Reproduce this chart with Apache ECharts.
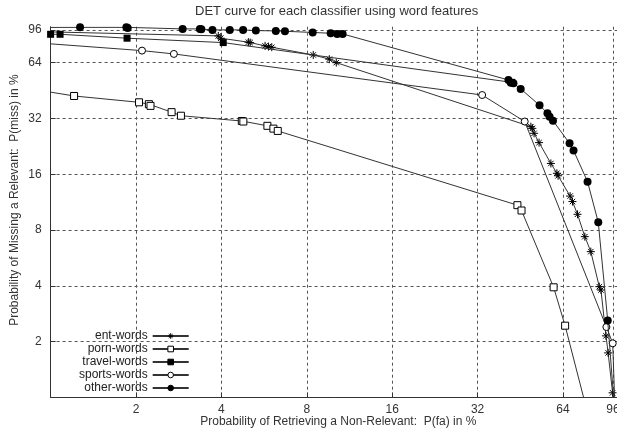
<!DOCTYPE html>
<html><head><meta charset="utf-8">
<script src="https://cdn.jsdelivr.net/npm/echarts@6/dist/echarts.min.js"></script>
<style>html,body{margin:0;padding:0;background:#fff}#c{width:617px;height:440px}</style>
</head><body><div id="c"></div>
<script>
// ---- data (x = P(fa) %, y = P(miss) %) ----
const seriesNames = ['ent-words', 'porn-words', 'travel-words', 'sports-words', 'other-words'];
const xTickValues = [2, 4, 8, 16, 32, 64, 96];
const yTickValues = [2, 4, 8, 16, 32, 64, 96];

const entWords = [[0.8, 94.5], [3.90, 89.2], [3.98, 86.7], [4.98, 82.5], [5.05, 82.1], [5.70, 78.8], [5.86, 78.1], [6.02, 77.5],
  [8.43, 70.4], [9.60, 66.8], [10.16, 64.0], [49.3, 28.9], [49.9, 28.3], [50.6, 26.6], [52.7, 23.7], [58.0, 18.3],
  [60.9, 16.2], [61.5, 15.7], [67.8, 12.2], [69.1, 11.4], [72.0, 9.73], [76.4, 7.37], [80.2, 6.12], [85.9, 3.96],
  [87.1, 3.80], [90.7, 2.15], [92.3, 1.74], [95.7, 1.06]];
const pornWords = [[0.8, 46.9], [1.21, 42.3], [2.05, 39.1], [2.22, 38.2], [2.25, 37.4], [2.67, 34.6], [2.88, 33.1],
  [4.72, 31.0], [4.78, 30.8], [5.81, 29.2], [6.10, 28.2], [6.32, 27.4], [44.2, 10.9], [45.7, 10.2], [59.3, 3.93],
  [65.1, 2.44], [77.0, 0.9]];
const travelWords = [[1.0, 91.0], [1.08, 91.0], [1.86, 86.7], [4.06, 82.1], [42.2, 50.1]];
const sportsWords = [[0.8, 82.9], [2.10, 74.3], [2.72, 71.3], [33.2, 42.8], [46.9, 30.8], [91.0, 2.40], [95.8, 1.96], [97.5, 0.9]];
const otherWords = [[0.8, 99.0], [1.27, 99.2], [1.85, 99.2], [1.87, 98.5], [2.92, 97.3], [3.36, 97.3], [3.40, 96.9],
  [3.72, 96.1], [4.28, 96.1], [4.77, 96.1], [5.29, 95.3], [6.22, 94.9], [6.70, 94.5], [8.39, 93.1], [9.71, 92.2],
  [10.24, 91.4], [10.70, 91.4], [41.1, 51.6], [41.9, 49.9], [42.8, 49.5], [45.4, 46.2], [52.9, 37.7], [56.4, 34.1],
  [57.4, 32.7], [59.0, 31.1], [67.5, 23.5], [69.7, 21.5], [78.1, 14.6], [85.2, 8.81], [92.0, 2.6], [97.0, 0.9]];

const seriesData = [entWords, pornWords, travelWords, sportsWords, otherWords];

// ---- styles ----
const FONT = 'Liberation Sans';
const asterisk = 'path://M0,5L10,5M5,0L5,10M1.6,1.6L8.4,8.4M1.6,8.4L8.4,1.6';
const markerStyles = [
  { symbol: asterisk, symbolSize: 8, itemStyle: { color: '#000', borderColor: '#000', borderWidth: 1 } },
  { symbol: 'rect', symbolSize: 7, itemStyle: { color: '#fff', borderColor: '#000', borderWidth: 1 } },
  { symbol: 'rect', symbolSize: 7, itemStyle: { color: '#000', borderColor: '#000', borderWidth: 0 } },
  { symbol: 'circle', symbolSize: 7, itemStyle: { color: '#fff', borderColor: '#000', borderWidth: 1 } },
  { symbol: 'circle', symbolSize: 8, itemStyle: { color: '#000', borderColor: '#000', borderWidth: 0 } }
];

const gridLine = { show: true, lineStyle: { color: '#555', width: 1, type: [3, 3] } };
const axisLineStyle = { show: true, lineStyle: { color: '#333', width: 1 } };
const labelStyle = { color: '#333', fontFamily: FONT, fontSize: 12 };

const chart = echarts.init(document.getElementById('c'), null, { renderer: 'canvas' });
chart.setOption({
  animation: false,
  backgroundColor: '#fff',
  title: {
    text: 'DET curve for each classifier using word features',
    left: 190, top: 0,
    textStyle: { color: '#333', fontFamily: FONT, fontSize: 13, fontWeight: 'normal' }
  },
  legend: {
    orient: 'vertical', align: 'right',
    left: 79, top: 330, padding: 0,
    itemWidth: 36, itemHeight: 7, itemGap: 1,
    itemStyle: { borderWidth: 1 },
    textStyle: { color: '#222', fontFamily: FONT, fontSize: 12 },
    data: seriesNames
  },
  grid: { left: 50.6, right: -1, top: 26.7, bottom: 42.5, containLabel: false, outerBoundsMode: 'none' },
  xAxis: {
    type: 'log', logBase: 2, min: 1, max: 100,
    name: 'Probability of Retrieving a Non-Relevant:  P(fa) in %',
    nameLocation: 'middle', nameGap: 18, nameMoveOverlap: false,
    nameTextStyle: { color: '#333', fontFamily: FONT, fontSize: 12, padding: [0, 0, 0, 8] },
    axisLine: axisLineStyle,
    axisTick: { show: true, inside: true, length: 5, customValues: xTickValues, lineStyle: { color: '#333' } },
    axisLabel: { show: true, margin: 6, customValues: xTickValues, formatter: v => String(Math.round(v)), ...labelStyle },
    splitLine: gridLine,
    minorTick: { show: false }, minorSplitLine: { show: false }
  },
  yAxis: {
    type: 'log', logBase: 2, min: 1, max: 100,
    name: 'Probability of Missing a Relevant:  P(miss) in %',
    nameLocation: 'middle', nameGap: 30, nameMoveOverlap: false,
    nameTextStyle: { color: '#333', fontFamily: FONT, fontSize: 12, padding: [0, 0, 0, 24] },
    axisLine: axisLineStyle,
    axisTick: { show: true, inside: true, length: 5, customValues: yTickValues, lineStyle: { color: '#333' } },
    axisLabel: { show: true, margin: 9, customValues: yTickValues, formatter: v => String(Math.round(v)), ...labelStyle },
    splitLine: gridLine,
    minorTick: { show: false }, minorSplitLine: { show: false }
  },
  series: seriesNames.map((name, i) => ({
    name: name,
    type: 'line',
    data: seriesData[i],
    clip: true,
    showAllSymbol: true,
    symbol: markerStyles[i].symbol,
    symbolSize: markerStyles[i].symbolSize,
    itemStyle: markerStyles[i].itemStyle,
    lineStyle: { color: '#333', width: 1 },
    emphasis: { disabled: true },
    z: 2 + i
  }))
});
</script></body></html>
